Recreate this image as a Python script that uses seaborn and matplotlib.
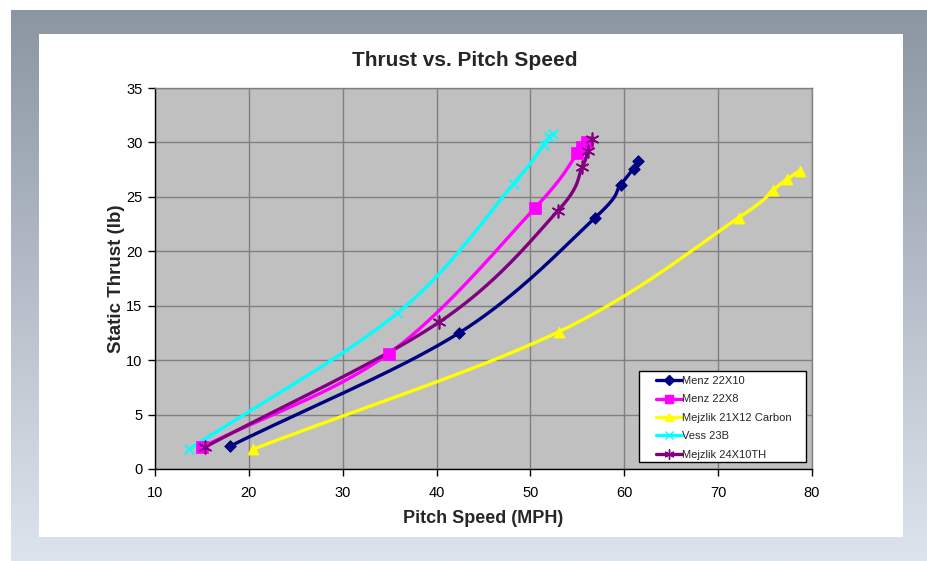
import numpy as np
import pandas as pd
import matplotlib
matplotlib.use("Agg")
import matplotlib.pyplot as plt
from matplotlib.lines import Line2D
from matplotlib.patches import Rectangle
import seaborn as sns

# ---- data ----
series_names = ["Menz 22X10", "Menz 22X8", "Mejzlik 21X12 Carbon", "Vess 23B", "Mejzlik 24X10TH"]
menz2210_x = [18.0, 42.4, 56.9, 59.6, 61.0, 61.5]
menz2210_y = [2.1, 12.5, 23.1, 26.1, 27.6, 28.3]
menz228_x = [15.0, 34.9, 50.5, 55.0, 55.5, 56.0]
menz228_y = [2.0, 10.6, 24.0, 29.0, 29.6, 30.0]
mej2112_x = [20.4, 53.0, 72.2, 75.8, 77.3, 78.7]
mej2112_y = [1.8, 12.6, 23.1, 25.6, 26.6, 27.4]
vess_x = [13.6, 35.8, 48.2, 51.4, 52.0, 52.4]
vess_y = [1.8, 14.3, 26.2, 29.8, 30.5, 30.8]
mej2410_x = [15.3, 40.3, 52.9, 55.5, 56.1, 56.6]
mej2410_y = [2.0, 13.5, 23.7, 27.7, 29.2, 30.3]

colors = ["#000080", "#FF00FF", "#FFFF00", "#00FFFF", "#800080"]
markers = ["D", "s", "^", "x", (6, 2, 0)]
msizes = [6, 8, 8, 7, 9]

xs = [menz2210_x, menz228_x, mej2112_x, vess_x, mej2410_x]
ys = [menz2210_y, menz228_y, mej2112_y, vess_y, mej2410_y]


def smooth(x, y, n=40):
    """Catmull-Rom style smoothed path through the points (display only)."""
    x = np.asarray(x, float); y = np.asarray(y, float)
    px = x / 70.0; py = y / 35.0
    P = np.column_stack([px, py])
    P = np.vstack([2 * P[0] - P[1], P, 2 * P[-1] - P[-2]])
    out = []
    for i in range(1, len(P) - 2):
        p0, p1, p2, p3 = P[i - 1], P[i], P[i + 1], P[i + 2]
        t = np.linspace(0, 1, n)[:, None]
        pts = 0.5 * ((2 * p1) + (-p0 + p2) * t + (2 * p0 - 5 * p1 + 4 * p2 - p3) * t ** 2
                     + (-p0 + 3 * p1 - 3 * p2 + p3) * t ** 3)
        out.append(pts)
    out = np.vstack(out)
    return out[:, 0] * 70.0, out[:, 1] * 35.0


W, H = 928, 561
fig = plt.figure(figsize=(W / 100, H / 100), dpi=100)
fig.patch.set_facecolor("white")

# background frame
bg = fig.add_axes([0, 0, 1, 1], zorder=-10)
bg.set_xlim(0, W); bg.set_ylim(H, 0); bg.axis("off")
grad = np.linspace(0, 1, 256)[:, None]
top = np.array([139, 150, 161]) / 255.0
bot = np.array([222, 228, 238]) / 255.0
img = top[None, None, :] * (1 - grad[:, :, None]) + bot[None, None, :] * grad[:, :, None]
img = np.repeat(img, 2, axis=1)
bg.imshow(img, extent=(11, W, H, 10), aspect="auto", interpolation="bilinear")
bg.add_patch(Rectangle((39, 34), 903 - 39, 537 - 34, facecolor="white", edgecolor="none"))

sns.set_style("white")
plt.rcParams["font.family"] = ["Liberation Sans", "DejaVu Sans"]

L, R, T, B = 155, 812, 88, 469
ax = fig.add_axes([L / W, 1 - B / H, (R - L) / W, (B - T) / H])
ax.set_facecolor("#C0C0C0")

for i, name in enumerate(series_names):
    sx, sy = smooth(xs[i], ys[i])
    path = pd.DataFrame({"x": sx, "y": sy})
    sns.lineplot(data=path, x="x", y="y", sort=False, estimator=None, color=colors[i],
                 lw=2.4, ax=ax, zorder=3 + i)
    pts = pd.DataFrame({"x": xs[i], "y": ys[i]})
    if markers[i] in ("x",) or isinstance(markers[i], tuple):
        ax.scatter(pts["x"], pts["y"], marker=markers[i], s=msizes[i] ** 2, color=colors[i],
                   linewidths=1.2, zorder=10 + i)
    else:
        sns.scatterplot(data=pts, x="x", y="y", marker=markers[i], s=msizes[i] ** 2,
                        color=colors[i], edgecolor=colors[i], linewidth=0.5, ax=ax, zorder=10 + i)

ax.set_xlim(10, 80)
ax.set_ylim(0, 35)
ax.set_xticks(range(10, 81, 10))
ax.set_yticks(range(0, 36, 5))
ax.grid(True, color="#808080", lw=1)
ax.set_axisbelow(True)
for s in ["top", "right"]:
    ax.spines[s].set_color("#808080")
for s in ["left", "bottom"]:
    ax.spines[s].set_color("black")
for s in ax.spines.values():
    s.set_linewidth(1)
ax.tick_params(axis="both", which="major", direction="out", length=5, width=1,
               color="black", labelsize=10.5, labelcolor="black", left=True, bottom=True, pad=4)
ax.tick_params(axis="x", pad=7.5)
ax.set_xlabel("Pitch Speed (MPH)", fontsize=13, fontweight="bold", labelpad=7)
ax.set_ylabel("Static Thrust (lb)", fontsize=13.5, fontweight="bold", labelpad=0.5)
fig.text(465 / W, 1 - 60 / H, "Thrust vs. Pitch Speed", ha="center", va="center",
         fontsize=15, fontweight="bold")

# legend frame (figure-level, above the axes)
frame = Rectangle((639 / W, 1 - 462 / H), (806 - 639) / W, (462 - 371) / H,
                  transform=fig.transFigure, facecolor="white", edgecolor="black",
                  lw=1, zorder=50)
fig.add_artist(frame)

handles = [Line2D([0], [0], color=colors[i], lw=2.4, marker=markers[i],
                  markersize=msizes[i] * 0.8, markeredgecolor=colors[i], markerfacecolor=colors[i])
           for i in range(len(series_names))]
leg = fig.legend(handles, series_names, loc="upper left",
                 bbox_to_anchor=(656 / W, 1 - 376 / H), fontsize=8, frameon=False,
                 handlelength=2.3, handletextpad=0.05, labelspacing=0.76,
                 borderpad=0, borderaxespad=0)
leg.set_zorder(60)

fig.savefig("out.png", dpi=100)
